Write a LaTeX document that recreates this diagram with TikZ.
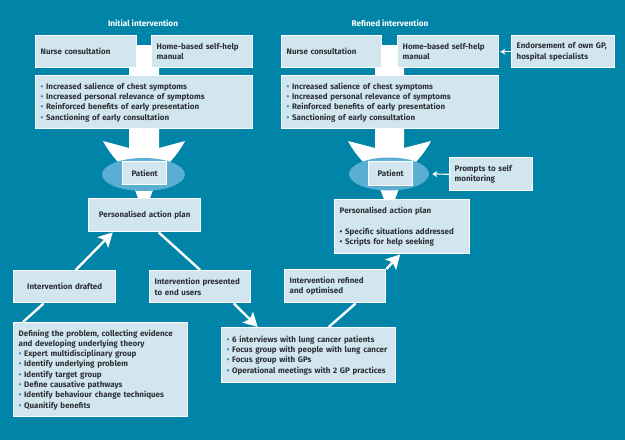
\documentclass[tikz,border=0pt]{standalone}
\usepackage{fontspec}
\setmainfont{Fira Sans}
\usepackage{tikz}
\usetikzlibrary{arrows.meta, positioning, calc, shapes.geometric}
\definecolor{bgteal}{HTML}{0084A8}
\definecolor{boxblue}{HTML}{D2E6F0}
\definecolor{ovalblue}{HTML}{5AAED2}
\definecolor{inktext}{HTML}{2C3236}
\definecolor{dotteal}{HTML}{1E95BE}
\tikzset{>=Stealth}
\tikzset{
  box/.style={draw=white, line width=1.4pt, fill=boxblue, text=inktext,
    font=\bfseries\fontsize{8}{10.3}\selectfont, inner xsep=5pt, inner ysep=0pt,
    anchor=north west},
  lbox/.style 2 args={box, text width=#1, minimum height=#2, align=left},
  cbox/.style 2 args={box, text width=#1, minimum height=#2, align=center},
  oval/.style={ellipse, fill=ovalblue, inner sep=0pt},
  title/.style={text=white, font=\bfseries\fontsize{8.2}{10.3}\selectfont},
  link/.style={white, line width=2.4pt},
  bigarrow/.style={link, -{Stealth[length=14pt, width=15pt, inset=3pt]}},
  smallarrow/.style={white, line width=1.2pt, -{Stealth[length=5pt, width=6pt]}}
}
\newcommand{\bul}{\textcolor{dotteal}{\textbullet}\ }

\begin{document}
\begin{tikzpicture}[x=1pt, y=-1pt]

            \fill[bgteal] (0,0) rectangle (625,440);
            \useasboundingbox (0,0) rectangle (625,440);

            % wide arrows into the patient
            \fill[white] (129,45) -- (129,148) -- (103,141) .. controls (108,151) and (122,170) .. (144,184)
                .. controls (166,170) and (180,151) .. (185,141) -- (159,148) -- (159,45) -- cycle;
            \fill[white] (132,182) -- (156,182) -- (144,214) -- cycle;
            \fill[white] (375,45) -- (375,148) -- (348,141) .. controls (353,151) and (367,170) .. (389.5,184)
                .. controls (412,170) and (426,151) .. (431,141) -- (404,148) -- (404,45) -- cycle;
            \fill[white] (377.5,182) -- (401.5,182) -- (389.5,214) -- cycle;

            \node[oval, minimum width=83pt, minimum height=33pt] (O1) at (143.5,174.5) {};
            \node[oval, minimum width=80pt, minimum height=33pt] (O2) at (389,174) {};

            \node[title] (T1) at (143,23) {Initial intervention};
            \node[title] (T2) at (390,23) {Refined intervention};

            \node[lbox={91pt}{32pt}] (N1) at (35,35) {Nurse consultation};
            \node[lbox={91pt}{32pt}] (H1) at (151,35) {Home-based self-help\\manual};
            \node[lbox={207pt}{53pt}] (S1) at (35,75) {\bul Increased salience of chest symptoms\\
                \bul Increased personal relevance of symptoms\\
                \bul Reinforced benefits of early presentation\\
                \bul Sanctioning of early consultation};
            \node[cbox={34pt}{23pt}] (P1) at (122,161) {Patient};
            \node[cbox={102pt}{33pt}] (A1) at (88,198) {Personalised action plan};
            \node[cbox={92pt}{32pt}] (D1) at (13,270) {Intervention drafted};
            \node[lbox={91pt}{32pt}] (U1) at (149,270) {Intervention presented\\to end users};
            \node[lbox={164pt}{94pt}] (F1) at (13,322) {Defining the problem, collecting evidence\\
                and developing underlying theory\\
                \bul Expert multidisciplinary group\\
                \bul Identify underlying problem\\
                \bul Identify target group\\
                \bul Define causative pathways\\
                \bul Identify behaviour change techniques\\
                \bul Quanitify benefits};

            \node[lbox={90pt}{32pt}] (N2) at (281,35) {Nurse consultation};
            \node[lbox={91pt}{32pt}] (H2) at (397,35) {Home-based self-help\\manual};
            \node[lbox={93pt}{32pt}] (E2) at (511,35) {Endorsement of own GP,\\hospital specialists};
            \node[lbox={207pt}{53pt}] (S2) at (281,75) {\bul Increased salience of chest symptoms\\
                \bul Increased personal relevance of symptoms\\
                \bul Reinforced benefits of early presentation\\
                \bul Sanctioning of early consultation};
            \node[cbox={34pt}{24pt}] (P2) at (368,161) {Patient};
            \node[lbox={73pt}{33pt}] (M2) at (449,157) {Prompts to self\\monitoring};
            \node[lbox={125pt}{54pt}] (A2) at (334,199) {Personalised action plan\\[10.3pt]
                \textbullet\ Specific situations addressed\\
                \textbullet\ Scripts for help seeking};
            \node[lbox={91pt}{33pt}] (R2) at (284,269) {Intervention refined\\and optimised};
            \node[lbox={164pt}{55pt}] (G2) at (221,327) {\bul 6 interviews with lung cancer patients\\
                \bul Focus group with people with lung cancer\\
                \bul Focus group with GPs\\
                \bul Operational meetings with 2 GP practices};

            \draw [link] ([xshift=10pt]F1.north west)--([xshift=-21pt]D1.south);
            \draw [bigarrow] ([xshift=11pt]D1.north)--([xshift=-32pt]A1.south);
            \draw [link] ([xshift=14pt]A1.south)--(U1.north);
            \draw [bigarrow] ([xshift=33.5pt]U1.south)--([xshift=-51pt]G2.north);
            \draw [link] ([xshift=20pt]G2.north)--([xshift=20.5pt]R2.south);
            \draw [bigarrow] (R2.north east)--([xshift=-2pt]A2.south);
            \draw [smallarrow, shorten >=1pt] (E2.west)--(H2.east);
            \draw [smallarrow, shorten >=3pt] (M2.west)--(O2.east);
            \end{tikzpicture}
\end{document}
